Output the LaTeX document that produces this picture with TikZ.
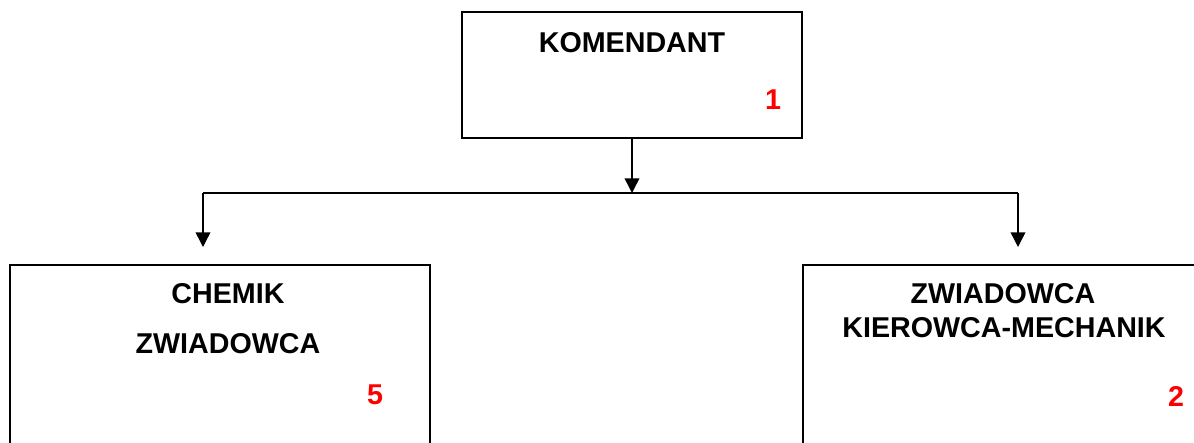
\documentclass[tikz,border=0pt]{standalone}
\usepackage{fontspec}
\setmainfont{Liberation Sans}
\usetikzlibrary{arrows.meta,fit}
\tikzset{
  box/.style={draw=black, line width=1.5pt, inner sep=0pt},
  lbl/.style={font=\fontsize{21.5}{24}\selectfont\bfseries, text=black, inner sep=0pt, anchor=center},
  num/.style={font=\fontsize{21.5}{24}\selectfont\bfseries, text=red, inner sep=0pt, anchor=center},
  conn/.style={line width=1.1pt, draw=black},
  arr/.style={conn, -{Triangle[length=11pt,width=11pt]}}
}
\begin{document}
\begin{tikzpicture}[x=0.75pt,y=-0.75pt]
\useasboundingbox (0,0) rectangle (1194,442);
\clip (0,0) rectangle (1194,442);
\fill[white] (0,0) rectangle (1194,442);
\node[box, fit={(462,12) (802,138)}] (top) {};
\node[box, fit={(10,265) (430,520)}] (left) {};
\node[box, fit={(803,265) (1260,520)}] (right) {};
\node[lbl] (t1) at (632,43) {KOMENDANT};
\node[num] (n1) at (773,100) {1};
\node[lbl] (l1) at (228,294) {CHEMIK};
\node[lbl] (l2) at (228,344) {ZWIADOWCA};
\node[num] (n5) at (375,395) {5};
\node[lbl] (r1) at (1003,294) {ZWIADOWCA};
\node[lbl] (r2) at (1004,328) {KIEROWCA-MECHANIK};
\node[num] (n2) at (1176,396) {2};
\coordinate (j) at (632,193);
\coordinate (jl) at (203,193);
\coordinate (jr) at (1018,193);
\coordinate (al) at (203,247);
\coordinate (ar) at (1018,247);
\draw[arr] (top.south) -- (j);
\draw[conn] (jl) -- (jr);
\draw[arr] (jl) -- (al);
\draw[arr] (jr) -- (ar);
\end{tikzpicture}
\end{document}
